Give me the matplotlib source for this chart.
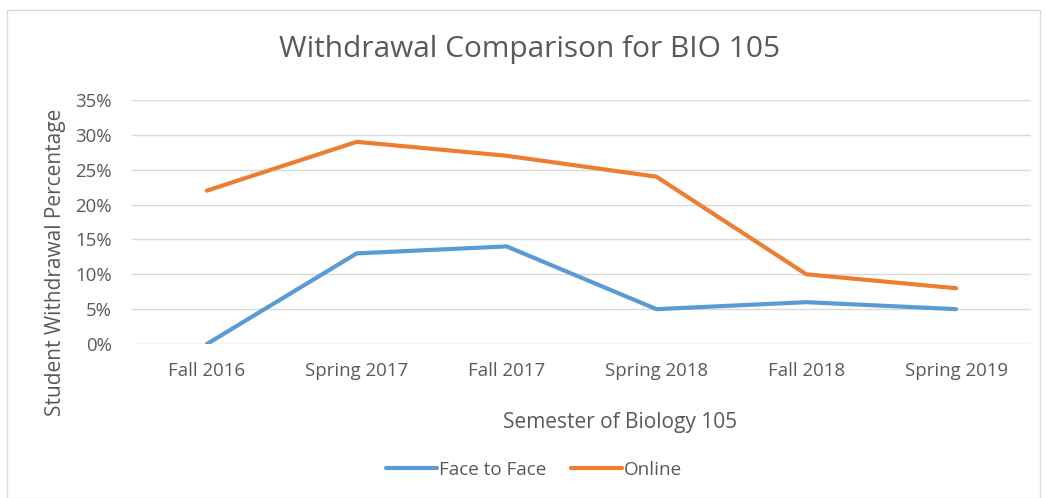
import matplotlib
matplotlib.use("Agg")
import matplotlib.pyplot as plt
from matplotlib.patches import Rectangle
from matplotlib.ticker import FuncFormatter

semesters = ["Fall 2016", "Spring 2017", "Fall 2017", "Spring 2018", "Fall 2018", "Spring 2019"]
face_to_face = [0, 13, 14, 5, 6, 5]
online = [22, 29, 27, 24, 10, 8]
y_ticks = [0, 5, 10, 15, 20, 25, 30, 35]

plt.rcParams['font.family'] = ['Open Sans', 'DejaVu Sans']
txt = '#595959'

fig = plt.figure(figsize=(10.47, 4.98), dpi=100)
fig.patches.append(Rectangle((7/1047, 0), 1033/1047, 1 - 10/498, transform=fig.transFigure,
                             fill=False, edgecolor='#D9D9D9', linewidth=1))
ax = fig.add_axes([132/1047, 1 - 344/498, (1031 - 132)/1047, 244/498])
x = list(range(len(semesters)))
ax.plot(x, face_to_face, color='#5B9BD5', linewidth=3, solid_capstyle='round', label='Face to Face')
ax.plot(x, online, color='#ED7D31', linewidth=3, solid_capstyle='round', label='Online')
ax.set_xlim(-0.5, len(semesters) - 0.5)
ax.set_ylim(0, 35)
ax.set_yticks(y_ticks)
ax.yaxis.set_major_formatter(FuncFormatter(lambda v, p: f"{int(v)}%"))
ax.set_xticks(x)
ax.set_xticklabels(semesters)
ax.grid(axis='y', color='#D9D9D9', linewidth=1)
ax.set_axisbelow(True)
for s in ax.spines.values():
    s.set_visible(False)
ax.tick_params(length=0, colors=txt, labelsize=13.4)
ax.tick_params(axis='x', pad=13)
ax.tick_params(axis='y', pad=14.5)
fig.text(530/1047, 1 - 50/498, "Withdrawal Comparison for BIO 105", ha='center', va='center',
         fontsize=21.5, color=txt)
fig.text(620/1047, 1 - 422/498, "Semester of Biology 105", ha='center', va='center',
         fontsize=15, color=txt)
fig.text(55/1047, 1 - 262/498, "Student Withdrawal Percentage", ha='center', va='center',
         rotation=90, fontsize=15, color=txt)
leg = fig.legend(loc='center', bbox_to_anchor=(534/1047, 1 - 470/498), ncol=2, frameon=False,
                 fontsize=13.6, handlelength=2.7, handletextpad=0.1, columnspacing=1.3)
for t in leg.get_texts():
    t.set_color(txt)
fig.savefig("out.png", dpi=100)
